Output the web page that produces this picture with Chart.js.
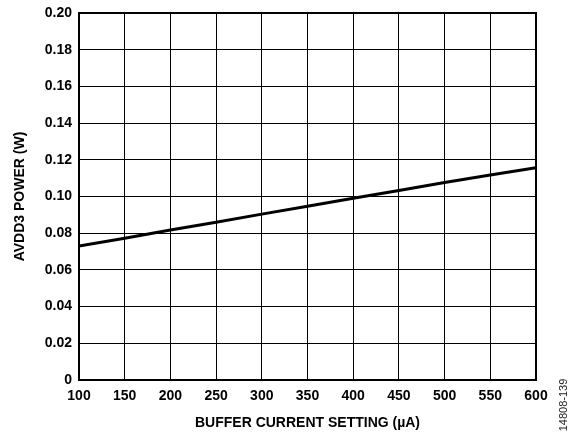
<!DOCTYPE html>
<html>
<head>
<meta charset="utf-8">
<script src="https://cdn.jsdelivr.net/npm/chart.js@4/dist/chart.umd.min.js"></script>
<style>
  html, body { margin: 0; padding: 0; background: #fff; }
  #wrap { position: relative; width: 569px; height: 434px; }
</style>
</head>
<body>
<div id="wrap"><canvas id="powerChart" width="569" height="434"></canvas></div>
<script>
// Data
const bufferCurrent = [100, 150, 200, 250, 300, 350, 400, 450, 500, 550, 600];
const avdd3Power = [0.0730, 0.0773, 0.0817, 0.0860, 0.0904, 0.0947, 0.0990, 0.1033, 0.1076, 0.1117, 0.1157];
const xTitle = 'BUFFER CURRENT SETTING (µA)';
const yTitle = 'AVDD3 POWER (W)';
const figureId = '14808-139';

const FONT = '"Liberation Sans", Arial, sans-serif';

// heavy frame around the plot area + figure number at the right
const framePlugin = {
    id: 'frame',
    afterDatasetsDraw(chart) {
        const { ctx, chartArea: a } = chart;
        ctx.save();
        ctx.strokeStyle = '#000';
        ctx.lineWidth = 2;
        ctx.strokeRect(a.left, a.top, a.right - a.left, a.bottom - a.top);
        ctx.restore();
    },
    afterDraw(chart) {
        const ctx = chart.ctx;
        ctx.save();
        ctx.translate(564, 405);
        ctx.rotate(-Math.PI / 2);
        ctx.font = '11px ' + FONT;
        ctx.fillStyle = '#222';
        ctx.textAlign = 'center';
        ctx.textBaseline = 'middle';
        ctx.fillText(figureId, 0, 0);
        ctx.restore();
    }
};

const ctx = document.getElementById('powerChart').getContext('2d');
const chart = new Chart(ctx, {
    type: 'line',
    data: {
        datasets: [{
            data: bufferCurrent.map((x, i) => ({ x: x, y: avdd3Power[i] })),
            borderColor: '#000',
            borderWidth: 3,
            pointRadius: 0,
            tension: 0,
            fill: false
        }]
    },
    options: {
        responsive: false,
        animation: false,
        layout: { padding: { left: 0, right: 33, top: 13, bottom: 0 } },
        plugins: {
            legend: { display: false },
            tooltip: { enabled: false }
        },
        scales: {
            x: {
                type: 'linear',
                min: 100,
                max: 600,
                afterFit(scale) { scale.height = 54; },
                ticks: {
                    stepSize: 50,
                    color: '#000',
                    padding: 8,
                    maxRotation: 0,
                    font: { family: FONT, size: 14, weight: 'bold' }
                },
                grid: { color: '#000', lineWidth: 1, drawTicks: false },
                border: { color: '#000', width: 2 },
                title: {
                    display: true,
                    text: xTitle,
                    color: '#000',
                    padding: { top: 2, bottom: 2 },
                    font: { family: FONT, size: 14, weight: 'bold' }
                }
            },
            y: {
                min: 0,
                max: 0.2,
                afterFit(scale) {
                    scale.width = 79;
                    scale.paddingTop = 0;
                    scale.paddingBottom = 0;
                },
                ticks: {
                    stepSize: 0.02,
                    color: '#000',
                    padding: 7,
                    font: { family: FONT, size: 14, weight: 'bold' },
                    callback: v => (Math.abs(v) < 1e-9 ? '0' : v.toFixed(2))
                },
                grid: { color: '#000', lineWidth: 1, drawTicks: false },
                border: { color: '#000', width: 2 },
                title: {
                    display: true,
                    text: yTitle,
                    color: '#000',
                    padding: { top: 12, bottom: 12 },
                    font: { family: FONT, size: 14, weight: 'bold' }
                }
            }
        }
    },
    plugins: [framePlugin]
});
</script>
</body>
</html>
